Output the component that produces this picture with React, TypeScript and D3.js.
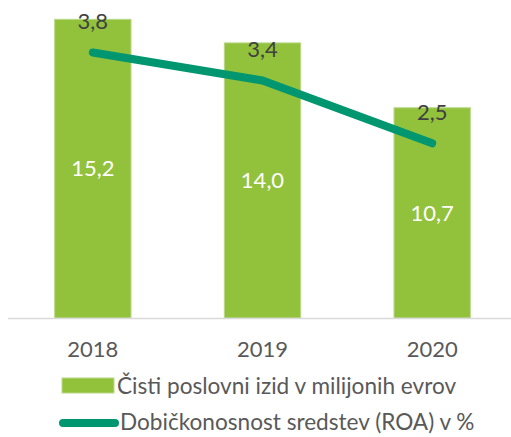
import React from "react";
import * as d3 from "d3";

const categories = ["2018", "2019", "2020"];
const barValues = [15.2, 14.0, 10.7];
const barLabels = ["15,2", "14,0", "10,7"];
const lineValues = [3.8, 3.4, 2.5];
const lineLabels = ["3,8", "3,4", "2,5"];
const legendLabels = ["Čisti poslovni izid v milijonih evrov", "Dobičkonosnost sredstev (ROA) v %"];

const W = 511, H = 437;
const FONT = "Lato, 'Open Sans', sans-serif";
const BAR = "#92C23C";
const LINE = "#009670";

export default function App() {
  const x = d3.scaleBand().domain(categories).range([8, 517]).paddingInner(0.55).paddingOuter(0.275);
  const top = 3.6, bottom = 318;
  const y = d3.scaleLinear().domain([0, 16]).range([bottom, top]);
  const y2 = d3.scaleLinear().domain([0, 4.5]).range([bottom, top]);
  const cx = (c: string) => (x(c) as number) + x.bandwidth() / 2;
  const line = d3.line<number>().x((_, i) => cx(categories[i])).y(v => y2(v));
  return (
    <svg width={W} height={H} style={{ position: "absolute", left: 0, top: 0 }} fontFamily={FONT}>
      <rect width={W} height={H} fill="#fff" />
      {categories.map((c, i) => (
        <g key={c}>
          <rect x={x(c)} y={y(barValues[i])} width={x.bandwidth()} height={bottom - y(barValues[i])} fill={BAR} stroke="#b9d888" strokeWidth={1} />
          <text x={cx(c)} y={(y(barValues[i]) + bottom) / 2} dy="0.35em" textAnchor="middle" fill="#fff" fontSize={22}>{barLabels[i]}</text>
        </g>
      ))}
      <line x1={8} x2={511} y1={bottom + 0.5} y2={bottom + 0.5} stroke="#d9d9d9" strokeWidth={1.5} />
      <path d={line(lineValues) || ""} fill="none" stroke={LINE} strokeWidth={8} strokeLinecap="round" strokeLinejoin="round" />
      {categories.map((c, i) => (
        <text key={c} x={cx(c)} y={y2(lineValues[i]) - 31} dy="0.35em" textAnchor="middle" fill="#404040" fontSize={22}>{lineLabels[i]}</text>
      ))}
      {categories.map(c => (
        <text key={c} x={cx(c)} y={349} dy="0.35em" textAnchor="middle" fill="#595959" fontSize={22}>{c}</text>
      ))}
      <rect x={62} y={378} width={52} height={15} fill={BAR} stroke="#b9d888" />
      <text x={117} y={386} dy="0.35em" fill="#595959" fontSize={22.6}>{legendLabels[0]}</text>
      <line x1={63} x2={115} y1={423} y2={423} stroke={LINE} strokeWidth={8} strokeLinecap="round" />
      <text x={120} y={422} dy="0.35em" fill="#595959" fontSize={22.6}>{legendLabels[1]}</text>
    </svg>
  );
}
